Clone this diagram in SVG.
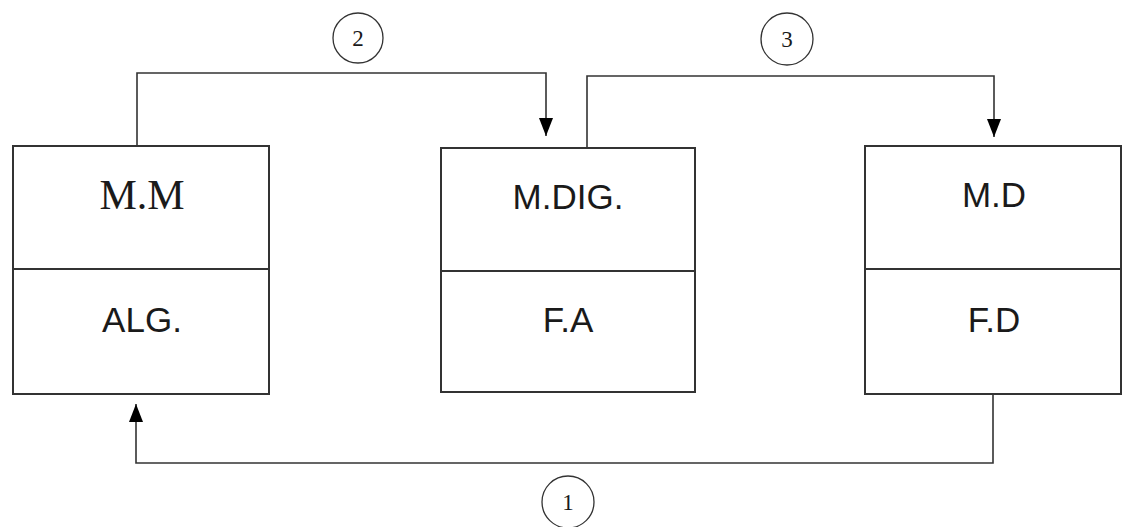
<svg xmlns="http://www.w3.org/2000/svg" width="1123" height="527" viewBox="0 0 1123 527">
  <style>
    .box { fill: #ffffff; stroke: #333333; stroke-width: 2; }
    .div { stroke: #333333; stroke-width: 2; }
    .conn { fill: none; stroke: #333333; stroke-width: 1.6; }
    .step { fill: #ffffff; stroke: #333333; stroke-width: 1.3; }
    .serif { font-family: "Liberation Serif", "Times New Roman", serif; fill: #1a1a1a; text-anchor: middle; }
    .sans { font-family: "Liberation Sans", Arial, sans-serif; font-size: 35px; fill: #1a1a1a; text-anchor: middle; }
    .big { font-size: 42px; }
    .num { font-size: 23px; }
  </style>
  <defs>
    <marker id="arrow" markerUnits="userSpaceOnUse" viewBox="0 0 18 14" refX="18" refY="7" markerWidth="18" markerHeight="14" orient="auto">
      <path d="M0,0 L18,7 L0,14 z" fill="#000000"/>
    </marker>
  </defs>
  <rect width="1123" height="527" fill="#ffffff"/>

  <!-- connectors -->
  <g id="connectors">
    <path class="conn" d="M137,146 V73 H546 V136" marker-end="url(#arrow)"/>
    <path class="conn" d="M587,148 V76 H994 V137" marker-end="url(#arrow)"/>
    <path class="conn" d="M993,394 V463 H136 V404" marker-end="url(#arrow)"/>
    <g id="step-2">
      <circle class="step" cx="358" cy="38" r="25"/>
      <text class="serif num" x="358" y="46">2</text>
    </g>
    <g id="step-3">
      <circle class="step" cx="787" cy="39" r="26"/>
      <text class="serif num" x="787" y="47">3</text>
    </g>
    <g id="step-1">
      <circle class="step" cx="568" cy="502" r="26"/>
      <text class="serif num" x="568" y="510">1</text>
    </g>
  </g>

  <!-- nodes -->
  <g id="node-mm">
    <rect class="box" x="13" y="146" width="256" height="248"/>
    <line class="div" x1="13" y1="269" x2="269" y2="269"/>
    <text class="serif big" x="142" y="209">M.M</text>
    <text class="sans" x="142" y="332">ALG.</text>
  </g>
  <g id="node-mdig">
    <rect class="box" x="441" y="148" width="254" height="244"/>
    <line class="div" x1="441" y1="271" x2="695" y2="271"/>
    <text class="sans" x="568" y="209">M.DIG.</text>
    <text class="sans" x="568" y="332">F.A</text>
  </g>
  <g id="node-md">
    <rect class="box" x="865" y="146" width="256" height="248"/>
    <line class="div" x1="865" y1="269" x2="1121" y2="269"/>
    <text class="sans" x="994" y="207">M.D</text>
    <text class="sans" x="994" y="332">F.D</text>
  </g>
</svg>
